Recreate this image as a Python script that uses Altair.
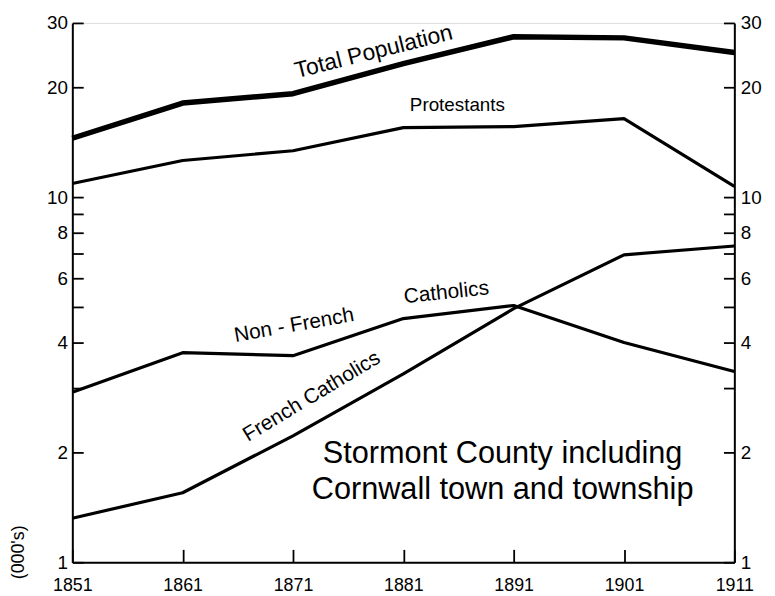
import altair as alt
import pandas as pd

years = [1851, 1861, 1871, 1881, 1891, 1901, 1911]
total = [14.5, 18.1, 19.2, 23.2, 27.5, 27.3, 24.9]
protestants = [10.9, 12.6, 13.4, 15.5, 15.6, 16.4, 10.7]
non_french = [2.92, 3.75, 3.68, 4.65, 5.05, 4.0, 3.33]
french = [1.32, 1.55, 2.22, 3.28, 4.95, 6.95, 7.35]

series_names = ["Total Population", "Protestants", "Non-French Catholics", "French Catholics"]
series_values = [total, protestants, non_french, french]

y_ticks = [1, 2, 3, 4, 5, 6, 7, 8, 9, 10, 20, 30]
y_labels = [1, 2, 4, 6, 8, 10, 20, 30]
x_ticks = [1851, 1861, 1871, 1881, 1891, 1901, 1911]

# annotation texts (label, year, value, angle, size)
ann_text = ["Total Population", "Protestants", "Non - French", "Catholics", "French Catholics",
            "Stormont County including", "Cornwall town and township"]
ann_year = [1878.3, 1885.9, 1871.1, 1884.9, 1872.7, 1890.0, 1890.0]
ann_value = [25.0, 17.9, 4.45, 5.47, 2.84, 1.98, 1.58]
ann_angle = [346, 0, 350, 354, 329, 0, 0]
ann_size = [23, 19, 21, 21, 21, 31, 31]

FONT = "Liberation Sans"

rows = []
for name, vals in zip(series_names, series_values):
    for yr, v in zip(years, vals):
        rows.append({"year": yr, "value": v, "series": name,
                     "w": 5.5 if name == "Total Population" else 3.2})
df = pd.DataFrame(rows)

xdom = [1851, 1911]
ydom = [1, 30]

def yscale():
    return alt.Scale(type="log", domain=ydom, nice=False)

def xenc(field="year:Q"):
    return alt.X(field, scale=alt.Scale(domain=xdom, nice=False, zero=False),
                 axis=alt.Axis(orient="top", offset=-545, values=x_ticks, format="d",
                               title=None, grid=False, tickSize=13, tickWidth=1.8,
                               tickColor="black", domainColor="black", domainWidth=2,
                               labelBaseline="top", labelPadding=-28, labelFont=FONT,
                               labelFontSize=18, labelColor="black", labelFlush=False,
                               labelOverlap=False))

label_expr = "indexof([1,2,4,6,8,10,20,30], datum.value) >= 0 ? datum.label : ''"

lines = alt.Chart(df).mark_line(color="black", strokeJoin="round", strokeCap="butt").encode(
    x=xenc(),
    y=alt.Y("value:Q", scale=yscale(),
            axis=alt.Axis(orient="right", offset=-669, values=y_ticks, title=None,
                          grid=False, tickSize=11, tickWidth=1.8, tickColor="black",
                          domainColor="black", domainWidth=2, labelAlign="right",
                          labelPadding=-16, labelFont=FONT, labelFontSize=19,
                          labelColor="black", labelExpr=label_expr, labelFlush=False,
                          labelOverlap=False)),
    detail="series:N",
    strokeWidth=alt.StrokeWidth("w:Q", scale=None, legend=None),
)

right_axis = alt.Chart(df).mark_line(opacity=0).encode(
    x=xenc(),
    y=alt.Y("value:Q", scale=yscale(),
            axis=alt.Axis(orient="left", offset=-669, values=y_ticks, title=None,
                          grid=False, tickSize=11, tickWidth=1.8, tickColor="black",
                          domainColor="black", domainWidth=2, labelAlign="left",
                          labelPadding=-17, labelFont=FONT, labelFontSize=19,
                          labelColor="black", labelExpr=label_expr, labelFlush=False,
                          labelOverlap=False)),
    detail="series:N",
)

layers = [lines, right_axis]
for t, yr, v, a, s in zip(ann_text, ann_year, ann_value, ann_angle, ann_size):
    d = pd.DataFrame({"year": [yr], "value": [v], "text": [t]})
    layers.append(
        alt.Chart(d).mark_text(font=FONT, fontSize=s, angle=a, color="black",
                               align="center", baseline="middle").encode(
            x=xenc(),
            y=alt.Y("value:Q", scale=yscale(), axis=None),
            text="text:N",
        )
    )

unit_df = pd.DataFrame({"text": ["(000's)"]})
layers.append(
    alt.Chart(unit_df).mark_text(font=FONT, fontSize=18, angle=270, color="black",
                                 align="center", baseline="middle").encode(
        x=alt.value(-54), y=alt.value(535), text="text:N")
)

chart = alt.layer(*layers).resolve_scale(y="independent").properties(
    width=669, height=545,
    autosize=alt.AutoSizeParams(type="none"),
    padding={"left": 65, "top": 12, "right": 33, "bottom": 31},
).configure_view(stroke=None).configure_axisTop(labelFontSize=18).configure(background="white")

chart.save("out.html", embed_options={"renderer": "svg", "actions": False})
